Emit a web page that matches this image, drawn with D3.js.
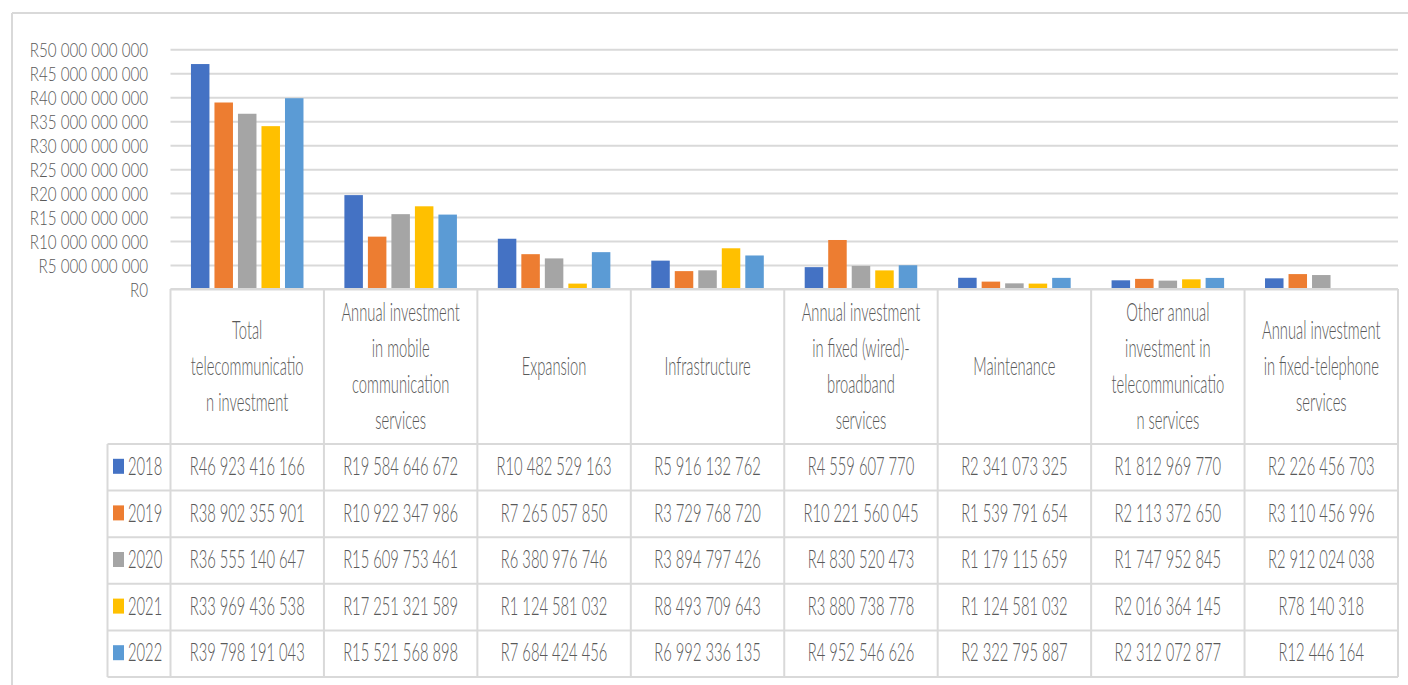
<!DOCTYPE html>
<html><head><meta charset="utf-8">
<script src="https://cdn.jsdelivr.net/npm/d3@7"></script>
<style>
html,body{margin:0;padding:0;background:#fff;}
svg{display:block;}
</style></head>
<body>
<svg id="chart" width="1408" height="685"></svg>
<script>
// ---- data ----
const categories = [
  "Total telecommunication investment",
  "Annual investment in mobile communication services",
  "Expansion",
  "Infrastructure",
  "Annual investment in fixed (wired)-broadband services",
  "Maintenance",
  "Other annual investment in telecommunication services",
  "Annual investment in fixed-telephone services"
];
const categoryLines = [
  ["Total", "telecommunicatio", "n investment"],
  ["Annual investment", "in mobile", "communication", "services"],
  ["Expansion"],
  ["Infrastructure"],
  ["Annual investment", "in fixed (wired)-", "broadband", "services"],
  ["Maintenance"],
  ["Other annual", "investment in", "telecommunicatio", "n services"],
  ["Annual investment", "in fixed-telephone", "services"]
];
const years = ["2018", "2019", "2020", "2021", "2022"];
const values2018 = [46923416166, 19584646672, 10482529163, 5916132762, 4559607770, 2341073325, 1812969770, 2226456703];
const values2019 = [38902355901, 10922347986, 7265057850, 3729768720, 10221560045, 1539791654, 2113372650, 3110456996];
const values2020 = [36555140647, 15609753461, 6380976746, 3894797426, 4830520473, 1179115659, 1747952845, 2912024038];
const values2021 = [33969436538, 17251321589, 1124581032, 8493709643, 3880738778, 1124581032, 2016364145, 78140318];
const values2022 = [39798191043, 15521568898, 7684424456, 6992336135, 4952546626, 2322795887, 2312072877, 12446164];
const yTicks = [0, 5e9, 10e9, 15e9, 20e9, 25e9, 30e9, 35e9, 40e9, 45e9, 50e9];
const colors = ["#4472C4", "#ED7D31", "#A5A5A5", "#FFC000", "#5B9BD5"];

const series = [values2018, values2019, values2020, values2021, values2022];

// ---- layout ----
const SX = 0.59;           // horizontal text compression
const FS = 25;             // font size
const AX_FS = 20.5, AX_SX = 0.74;
const FW = 300;
const TXT = "#595959";
const GRID = "#d9d9d9";
const FONT = "Lato, 'Open Sans', sans-serif";
const plotL = 170.5, plotR = 1398, plotT = 49.3, plotB = 289;
const headB = 444, tableB = 677, legL = 107.5;

const svg = d3.select("#chart");
svg.style("font-family", FONT);

const locale = d3.formatLocale({decimal: ".", thousands: " ", grouping: [3], currency: ["R", ""]});
const fmt = locale.format("$,.0f");

const x = d3.scaleBand().domain(categories).range([plotL, plotR]).padding(0);
const x1 = d3.scaleBand().domain(years).range([0, x.bandwidth()]).paddingInner(0.213).paddingOuter(0.87);
const y = d3.scaleLinear().domain([0, 50e9]).range([plotB, plotT]);
const rowY = d3.scaleBand().domain(years).range([headB, tableB]);

// chart area border (top & left)
svg.append("line").attr("x1", 12).attr("x2", 1408).attr("y1", 13).attr("y2", 13)
  .attr("stroke", GRID).attr("stroke-width", 2);
svg.append("line").attr("x1", 12).attr("x2", 12).attr("y1", 13).attr("y2", 685)
  .attr("stroke", GRID).attr("stroke-width", 2);

// y axis with gridlines
const yAxis = svg.append("g").attr("transform", `translate(${plotL},0)`)
  .call(d3.axisLeft(y).tickValues(yTicks).tickFormat(fmt).tickSizeInner(-(plotR - plotL)).tickSizeOuter(0));
yAxis.select(".domain").remove();
yAxis.selectAll(".tick line").attr("stroke", GRID).attr("stroke-width", 2);
yAxis.selectAll(".tick text")
  .attr("x", -(plotL - 148) / AX_SX)
  .attr("dy", "0.35em")
  .attr("transform", `scale(${AX_SX},1)`)
  .attr("fill", TXT)
  .style("font-size", AX_FS + "px")
  .style("font-weight", FW)
  .style("font-family", FONT);

// bars
const groups = svg.append("g").selectAll("g").data(categories).join("g")
  .attr("transform", d => `translate(${x(d)},0)`);
groups.selectAll("rect")
  .data((d, i) => years.map((yr, j) => ({yr, v: series[j][i], c: colors[j]})))
  .join("rect")
  .attr("x", d => x1(d.yr))
  .attr("width", x1.bandwidth())
  .attr("y", d => y(d.v))
  .attr("height", d => Math.max(0, y(0) - 1 - y(d.v)))
  .attr("fill", d => d.c);

// table grid
const tg = svg.append("g").attr("stroke", GRID).attr("stroke-width", 2);
tg.append("line").attr("x1", plotL).attr("x2", plotR).attr("y1", plotB).attr("y2", plotB);
const rowEdges = years.map(yr => rowY(yr)).concat([tableB]);
rowEdges.forEach(ry => tg.append("line").attr("x1", legL).attr("x2", plotR).attr("y1", ry).attr("y2", ry));
tg.append("line").attr("x1", legL).attr("x2", legL).attr("y1", headB).attr("y2", tableB);
const colEdges = categories.map(c => x(c)).concat([plotR]);
colEdges.forEach(cx => tg.append("line").attr("x1", cx).attr("x2", cx).attr("y1", plotB).attr("y2", tableB));

function label(g, tx, ty, str, anchor) {
  return g.append("text")
    .attr("transform", `translate(${tx},${ty}) scale(${SX},1)`)
    .attr("text-anchor", anchor)
    .attr("dy", "0.35em")
    .attr("fill", TXT)
    .style("font-size", FS + "px")
    .style("font-weight", FW)
    .text(str);
}

// header labels
const hg = svg.append("g");
const lineH = 36;
const headMid = (plotB + headB) / 2 - 0.5;
categories.forEach((c, i) => {
  const lines = categoryLines[i];
  const cx = x(c) + x.bandwidth() / 2;
  lines.forEach((ln, k) => {
    const ty = headMid + (k - (lines.length - 1) / 2) * lineH;
    label(hg, cx, ty, ln, "middle");
  });
});

// value cells + legend keys
const vg = svg.append("g");
years.forEach((yr, j) => {
  const cy = rowY(yr) + rowY.bandwidth() / 2 - 1;
  vg.append("rect").attr("x", 113).attr("y", cy - 7.5).attr("width", 11).attr("height", 15).attr("fill", colors[j]);
  label(vg, 128, cy, yr, "start");
  categories.forEach((c, i) => {
    label(vg, x(c) + x.bandwidth() / 2, cy, fmt(series[j][i]), "middle");
  });
});
</script>
</body></html>
